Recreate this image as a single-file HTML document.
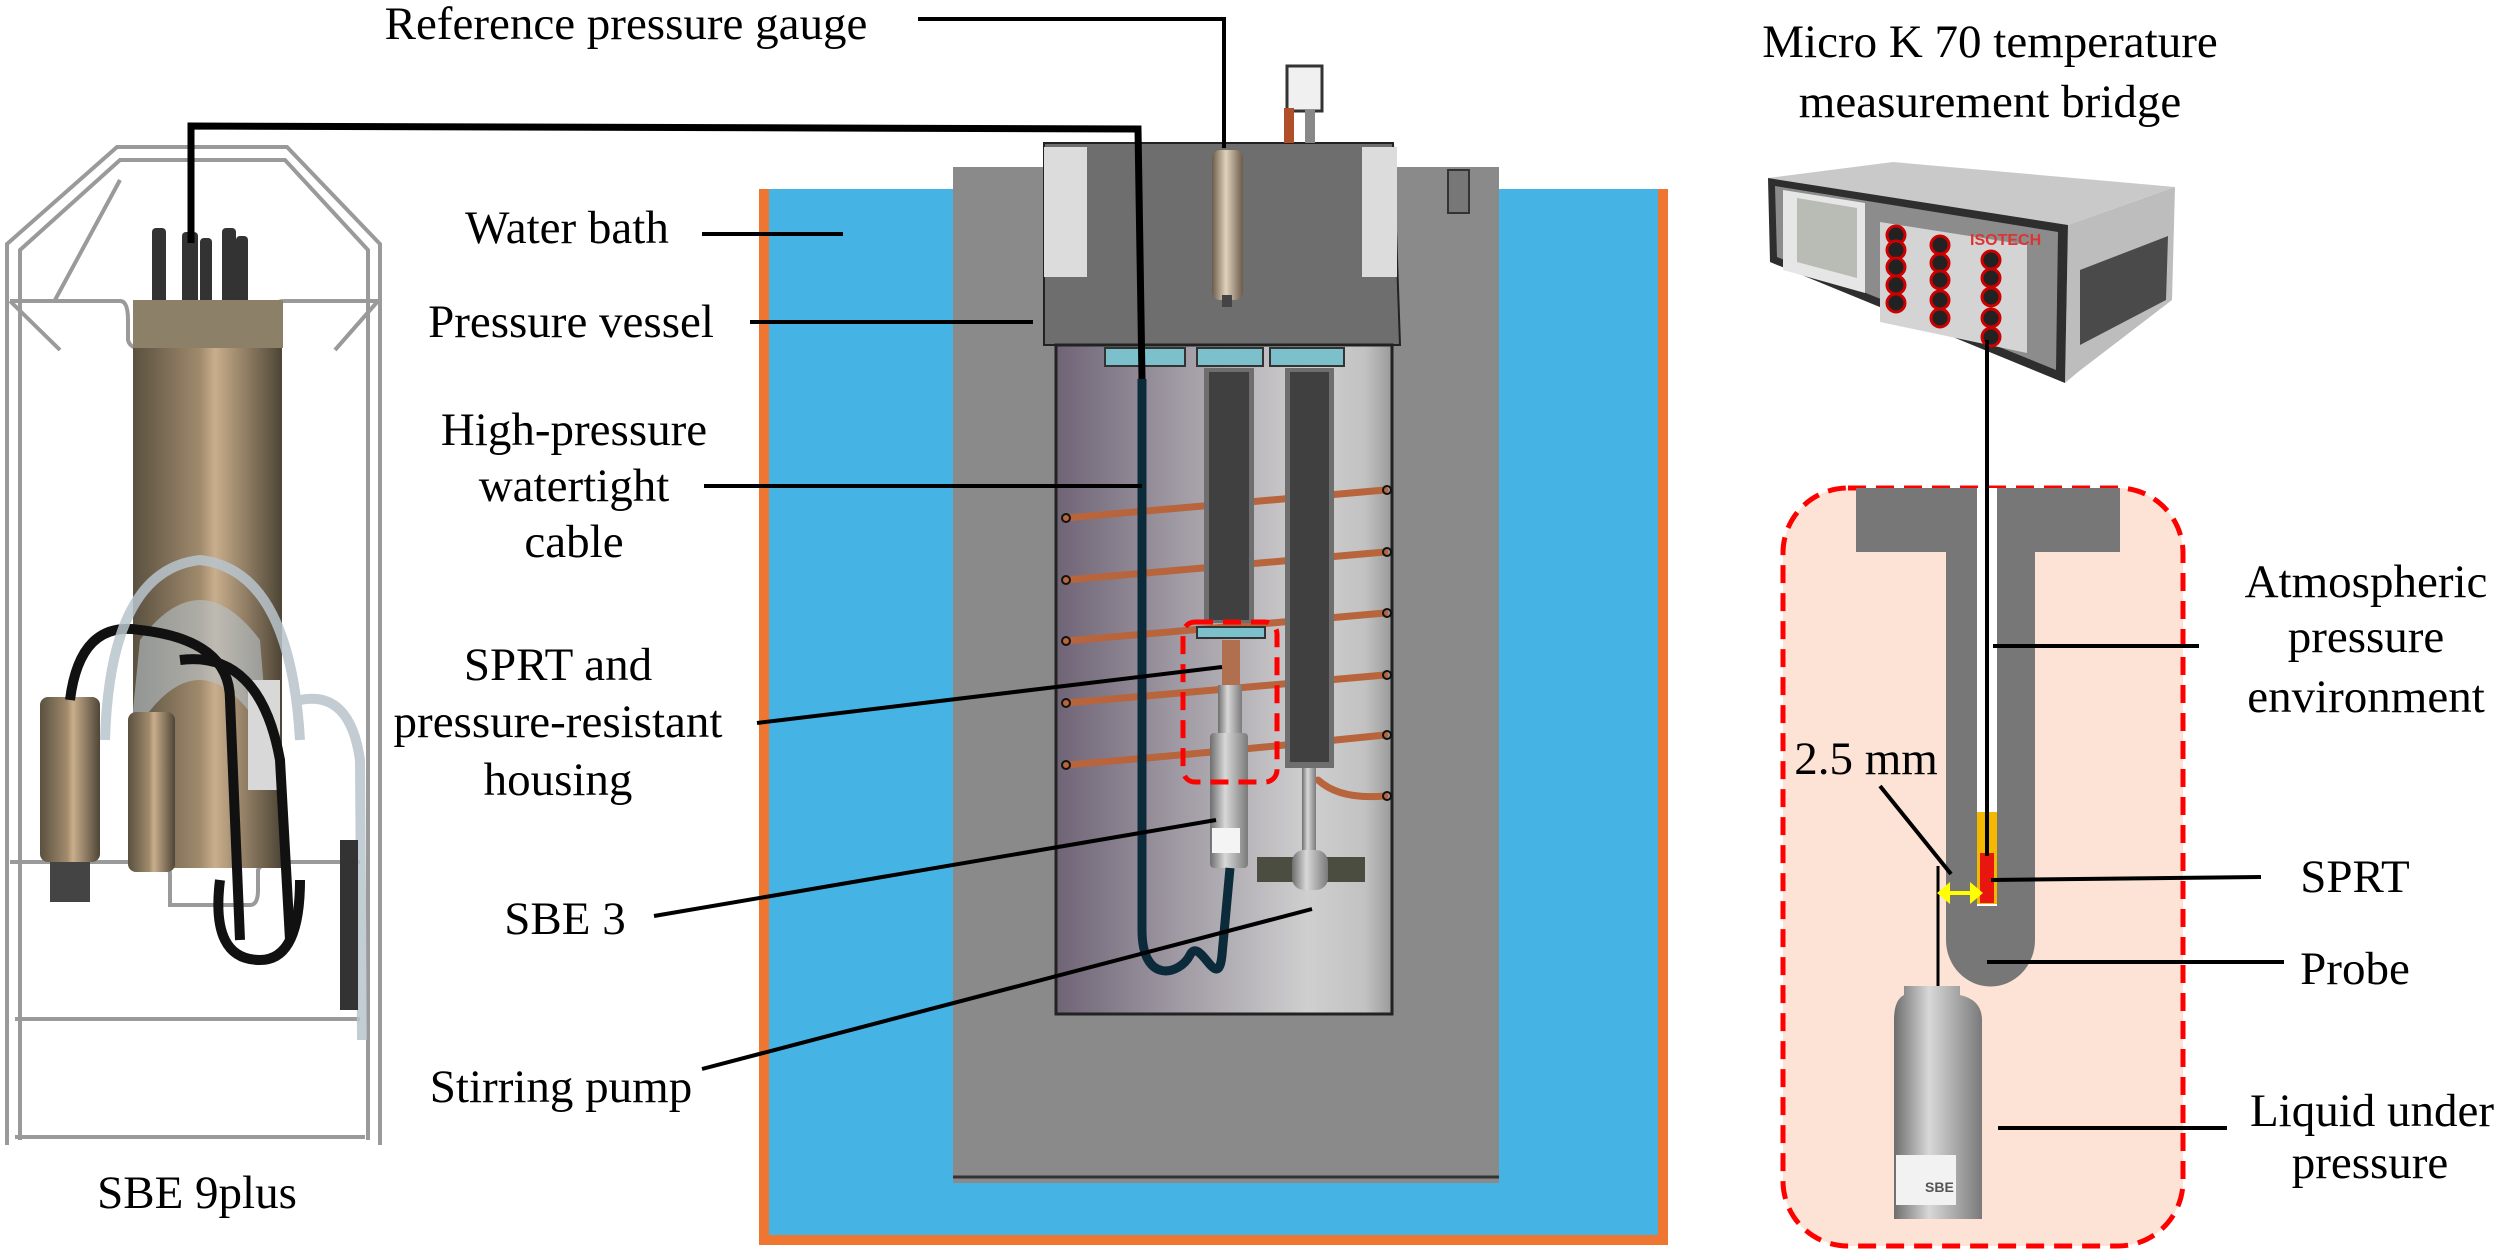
<!DOCTYPE html>
<html><head><meta charset="utf-8"><style>
html,body{margin:0;padding:0;background:#fff;}
svg{display:block;}
.t{font-family:"Liberation Serif","Times New Roman","DejaVu Serif","Noto Serif CJK SC",serif;font-size:47px;fill:#000;}
</style></head><body>
<svg width="2500" height="1250" viewBox="0 0 2500 1250" xmlns="http://www.w3.org/2000/svg">
<defs>
<linearGradient id="bronze" x1="0" x2="1" y1="0" y2="0">
<stop offset="0" stop-color="#5a5140"/><stop offset="0.45" stop-color="#a08a6c"/><stop offset="0.55" stop-color="#c9ae8c"/><stop offset="1" stop-color="#4e4536"/>
</linearGradient>
<linearGradient id="chamber" x1="0" x2="1" y1="0" y2="0">
<stop offset="0" stop-color="#6f6476"/><stop offset="0.35" stop-color="#9e98a2"/><stop offset="0.75" stop-color="#cfcfcf"/><stop offset="0.92" stop-color="#c2c2c2"/><stop offset="1" stop-color="#9a9a9a"/>
</linearGradient>
<linearGradient id="silver" x1="0" x2="1" y1="0" y2="0">
<stop offset="0" stop-color="#6e6e6e"/><stop offset="0.4" stop-color="#d8d8d8"/><stop offset="1" stop-color="#7a7a7a"/>
</linearGradient>
<linearGradient id="gauge" x1="0" x2="1" y1="0" y2="0">
<stop offset="0" stop-color="#6b5c4a"/><stop offset="0.45" stop-color="#e0d2bc"/><stop offset="1" stop-color="#6b5c4a"/>
</linearGradient>
</defs>

<g fill="none" stroke="#9a9a9a" stroke-width="4">
<polyline points="7,1145 7,244 117,147 287,147 380,244 380,1145"/>
<polyline points="20,1140 20,250 120,160 285,160 368,250 368,1140"/>
<polyline points="55,300 120,180 M290,180 355,300"/>
<path d="M10,301 L120,301 Q128,301 128,320 L128,340 Q130,350 150,350 L255,350 Q268,350 268,335 L268,318 Q270,301 285,301 L378,301"/>
<path d="M10,862 L160,862 Q170,862 170,875 L170,905 L250,905 Q258,905 258,890 L258,870 Q262,862 275,862 L360,862"/>
<line x1="15" y1="1019" x2="360" y2="1019"/>
<line x1="15" y1="1137" x2="365" y2="1137"/>
<line x1="10" y1="301" x2="60" y2="350"/><line x1="378" y1="301" x2="335" y2="350"/>
</g>
<g fill="#333">
<rect x="152" y="228" width="14" height="82" rx="4"/><rect x="182" y="232" width="16" height="80" rx="4"/>
<rect x="200" y="238" width="12" height="75" rx="4"/><rect x="222" y="228" width="14" height="82" rx="4"/>
<rect x="236" y="236" width="12" height="75" rx="4"/>
</g>
<rect x="133" y="300" width="150" height="48" fill="#8d8069"/>
<rect x="133" y="348" width="149" height="520" fill="url(#bronze)"/>
<path d="M140,640 Q200,560 260,640 L268,740 Q200,620 130,740 Z" fill="#b8c3cc" opacity="0.6"/>
<rect x="40" y="697" width="60" height="165" rx="8" fill="url(#bronze)"/>
<rect x="50" y="862" width="40" height="40" fill="#444"/>
<rect x="128" y="712" width="47" height="160" rx="8" fill="url(#bronze)"/>
<rect x="248" y="680" width="32" height="110" fill="#d8d8d8"/>
<g fill="none" stroke="#111" stroke-width="10">
<path d="M70,700 Q80,620 140,630 Q230,640 230,700 L240,940"/>
<path d="M180,660 Q260,650 280,760 L290,940"/>
<path d="M220,880 Q210,960 260,960 Q300,960 300,880"/>
</g>
<g fill="none" stroke="#b9c4cc" stroke-width="10" opacity="0.85">
<path d="M105,740 Q110,570 200,560 Q290,570 300,740"/>
<path d="M300,700 Q350,690 360,760 L362,1040"/>
</g>
<rect x="340" y="840" width="18" height="170" fill="#333"/>

<rect x="759" y="189" width="909" height="1056" fill="#ef7630"/>
<rect x="769" y="189" width="889" height="1046" fill="#45b3e3"/>
<rect x="953" y="167" width="546" height="1016" fill="#8a8a8a"/>
<line x1="953" y1="1177" x2="1499" y2="1177" stroke="#333" stroke-width="3"/>
<path d="M1044,143 L1393,143 L1400,345 L1044,345 Z" fill="#6e6e6e" stroke="#222" stroke-width="2"/>
<rect x="1044" y="147" width="43" height="130" fill="#dcdcdc"/>
<rect x="1362" y="147" width="35" height="130" fill="#dcdcdc"/>
<rect x="1448" y="170" width="21" height="43" fill="#777" stroke="#333" stroke-width="2"/>
<rect x="1287" y="66" width="35" height="45" fill="#f0f0f0" stroke="#333" stroke-width="3"/>
<rect x="1284" y="108" width="10" height="35" fill="#b0502a"/>
<rect x="1305" y="110" width="10" height="33" fill="#888"/>
<rect x="1212" y="150" width="31" height="150" rx="8" fill="url(#gauge)"/>
<rect x="1222" y="295" width="10" height="12" fill="#444"/>
<rect x="1056" y="345" width="336" height="669" fill="url(#chamber)" stroke="#222" stroke-width="3"/>
<g fill="#7cc0cc" stroke="#333" stroke-width="2">
<rect x="1105" y="348" width="80" height="18"/><rect x="1197" y="348" width="66" height="18"/><rect x="1270" y="348" width="74" height="18"/>
</g>
<g fill="none" stroke="#b8643c" stroke-width="7" stroke-linecap="round">
<path d="M1066,518 Q1220,505 1385,490"/>
<path d="M1066,580 Q1220,567 1385,552"/>
<path d="M1066,641 Q1220,628 1385,613"/>
<path d="M1066,703 Q1220,690 1385,675"/>
<path d="M1066,765 Q1220,752 1385,735"/>
<path d="M1318,780 Q1340,800 1385,796"/>
</g>
<g fill="none" stroke="#111" stroke-width="2">
<circle cx="1387" cy="490" r="4"/><circle cx="1387" cy="552" r="4"/><circle cx="1387" cy="613" r="4"/><circle cx="1387" cy="675" r="4"/><circle cx="1387" cy="735" r="4"/><circle cx="1387" cy="796" r="4"/>
<circle cx="1066" cy="518" r="4"/><circle cx="1066" cy="580" r="4"/><circle cx="1066" cy="641" r="4"/><circle cx="1066" cy="703" r="4"/><circle cx="1066" cy="765" r="4"/>
</g>
<rect x="1204" y="368" width="50" height="255" fill="#6e6e6e"/><rect x="1209" y="372" width="40" height="248" fill="#404040"/>
<rect x="1285" y="368" width="49" height="400" fill="#6e6e6e"/><rect x="1290" y="372" width="39" height="390" fill="#404040"/>
<rect x="1302" y="768" width="14" height="120" fill="url(#silver)"/>
<rect x="1257" y="857" width="108" height="25" fill="#4a4d40"/>
<rect x="1292" y="850" width="36" height="40" rx="12" fill="url(#silver)"/>
<rect x="1197" y="627" width="68" height="11" fill="#7cc0cc" stroke="#333" stroke-width="2"/>
<rect x="1222" y="640" width="18" height="45" fill="#b07050"/>
<rect x="1218" y="685" width="24" height="48" fill="url(#silver)"/>
<rect x="1210" y="733" width="38" height="135" rx="4" fill="url(#silver)"/>
<rect x="1212" y="828" width="28" height="25" fill="#f4f4f4"/>
<path d="M1142,379 L1142,930 C1142,985 1180,975 1190,955 C1200,935 1218,995 1222,955 L1230,868" fill="none" stroke="#0b2a3a" stroke-width="9"/>
<rect x="1183" y="622" width="94" height="160" rx="12" fill="none" stroke="#f00" stroke-width="5" stroke-dasharray="18 10"/>
<polyline points="191,243 191,126 1138,129 1142,379" fill="none" stroke="#000" stroke-width="7"/>
<polyline points="918,19 1224,19 1224,148" fill="none" stroke="#000" stroke-width="4"/>

<g stroke="#000" stroke-width="4">
<line x1="702" y1="234" x2="843" y2="234"/>
<line x1="750" y1="322" x2="1033" y2="322"/>
<line x1="704" y1="486" x2="1142" y2="486"/>
<line x1="757" y1="723" x2="1222" y2="667"/>
<line x1="654" y1="916" x2="1216" y2="820"/>
<line x1="702" y1="1069" x2="1312" y2="909"/>
</g>
<g text-anchor="middle">
<text class="t" x="626" y="39">Reference pressure gauge</text>
<text class="t" x="567" y="243">Water bath</text>
<text class="t" x="571" y="337">Pressure vessel</text>
<text class="t" x="574" y="445">High-pressure</text>
<text class="t" x="574" y="501">watertight</text>
<text class="t" x="574" y="557">cable</text>
<text class="t" x="558" y="680">SPRT and</text>
<text class="t" x="558" y="737">pressure-resistant</text>
<text class="t" x="558" y="795">housing</text>
<text class="t" x="565" y="934">SBE 3</text>
<text class="t" x="561" y="1102">Stirring pump</text>
<text class="t" x="197" y="1208">SBE 9plus</text>
<text class="t" x="1990" y="57">Micro K 70 temperature</text>
<text class="t" x="1990" y="117">measurement bridge</text>
</g>

<polygon points="1768,178 1893,162 2175,187 2068,225" fill="#c9c9c9"/>
<polygon points="2068,225 2175,187 2172,300 2078,372 2065,383" fill="#bdbdbd"/>
<polygon points="2080,270 2168,236 2166,300 2080,345" fill="#4a4a4a"/>
<polygon points="1768,178 2068,225 2065,383 1770,262" fill="#2e2e2e"/>
<polygon points="1775,186 2058,232 2056,370 1777,257" fill="#8c8c8c"/>
<polygon points="1783,190 1865,203 1865,293 1783,270" fill="#e6e6e6"/>
<polygon points="1797,198 1857,208 1857,278 1797,262" fill="#b8bcb4"/>
<polygon points="1880,222 2027,245 2027,353 1880,322" fill="#d4d4d4"/>
<text x="1970" y="245" font-family="Liberation Sans, sans-serif" font-size="16" font-weight="bold" fill="#d33">ISOTECH</text>
<g fill="#222" stroke="#c00" stroke-width="3">
<circle cx="1896" cy="235" r="9"/><circle cx="1896" cy="250" r="9"/><circle cx="1896" cy="267" r="9"/><circle cx="1896" cy="285" r="9"/><circle cx="1896" cy="303" r="9"/>
<circle cx="1940" cy="245" r="9"/><circle cx="1940" cy="263" r="9"/><circle cx="1940" cy="280" r="9"/><circle cx="1940" cy="300" r="9"/><circle cx="1940" cy="318" r="9"/>
<circle cx="1991" cy="260" r="9"/><circle cx="1991" cy="278" r="9"/><circle cx="1991" cy="297" r="9"/><circle cx="1991" cy="318" r="9"/><circle cx="1991" cy="337" r="9"/>
</g>

<rect x="1783" y="488" width="400" height="758" rx="65" fill="#fde3d6" stroke="#f00" stroke-width="5" stroke-dasharray="18 10"/>
<rect x="1856" y="488" width="121" height="64" fill="#777"/>
<rect x="1997" y="488" width="123" height="64" fill="#777"/>
<path d="M1946,552 L1977,552 L1977,905 L1997,905 L1997,552 L2035,552 L2035,940 A44,46 0 0 1 1946,940 Z" fill="#777"/>
<rect x="1977" y="488" width="20" height="418" fill="#fff"/>
<rect x="1977" y="812" width="20" height="92" fill="#f5b800"/>
<rect x="1980" y="853" width="14" height="50" fill="#e8160e"/>
<line x1="1987" y1="340" x2="1987" y2="856" stroke="#000" stroke-width="4"/>
<path d="M1904,986 L1960,986 L1960,995 Q1982,1000 1982,1020 L1982,1219 L1894,1219 L1894,1020 Q1894,1000 1904,995 Z" fill="url(#silver)"/>
<rect x="1896" y="1155" width="60" height="50" fill="#f2f2f2"/>
<text x="1925" y="1192" font-family="Liberation Sans, sans-serif" font-size="14" font-weight="bold" fill="#555">SBE</text>
<g stroke="#000" stroke-width="4">
<line x1="1993" y1="646" x2="2199" y2="646"/>
<line x1="1991" y1="880" x2="2261" y2="877"/>
<line x1="1987" y1="962" x2="2284" y2="962"/>
<line x1="1998" y1="1128" x2="2227" y2="1128"/>
<line x1="1880" y1="786" x2="1951" y2="874"/>
<line x1="1938" y1="866" x2="1938" y2="986" stroke-width="3"/>
</g>
<g fill="#ffff00">
<line x1="1944" y1="893" x2="1976" y2="893" stroke="#ffff00" stroke-width="4"/>
<polygon points="1937,893 1950,882 1950,904"/>
<polygon points="1983,893 1970,882 1970,904"/>
</g>
<g text-anchor="middle">
<text class="t" x="2366" y="597">Atmospheric</text>
<text class="t" x="2366" y="652">pressure</text>
<text class="t" x="2366" y="712">environment</text>
<text class="t" x="2355" y="892">SPRT</text>
<text class="t" x="2355" y="984">Probe</text>
<text class="t" x="2372" y="1126">Liquid under</text>
<text class="t" x="2370" y="1178">pressure</text>
<text class="t" x="1866" y="774">2.5 mm</text>
</g>
</svg>
</body></html>
